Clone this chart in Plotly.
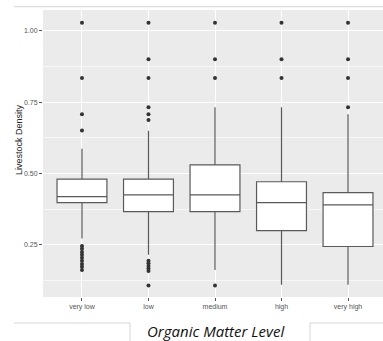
import plotly.graph_objects as go

categories = ["very low", "low", "medium", "high", "very high"]
q1 = [0.398, 0.366, 0.366, 0.300, 0.244]
median = [0.419, 0.425, 0.425, 0.398, 0.390]
q3 = [0.480, 0.480, 0.530, 0.471, 0.433]
lower_whisker = [0.272, 0.215, 0.162, 0.110, 0.110]
upper_whisker = [0.587, 0.650, 0.732, 0.732, 0.708]
outliers = {
    "very low": [1.028, 0.835, 0.708, 0.651, 0.246, 0.236, 0.225, 0.215, 0.205,
                 0.194, 0.183, 0.173, 0.162],
    "low": [1.028, 0.900, 0.835, 0.732, 0.708, 0.687, 0.194, 0.185, 0.176,
            0.167, 0.158, 0.107],
    "medium": [1.028, 0.900, 0.835, 0.107],
    "high": [1.028, 0.900, 0.835],
    "very high": [1.028, 0.900, 0.835, 0.732],
}
y_ticks = [0.25, 0.50, 0.75, 1.00]
y_tick_labels = ["0.25", "0.50", "0.75", "1.00"]
y_minor = [0.125, 0.375, 0.625, 0.875]

fig = go.Figure()
fig.add_trace(go.Box(
    x=categories, q1=q1, median=median, q3=q3,
    lowerfence=lower_whisker, upperfence=upper_whisker,
    boxpoints=False, fillcolor="white",
    line=dict(color="#5a5a5a", width=1.2), whiskerwidth=0, width=0.75,
    showlegend=False, hoverinfo="skip",
))
ox, oy = [], []
for c in categories:
    for v in outliers[c]:
        ox.append(c)
        oy.append(v)
fig.add_trace(go.Scatter(
    x=ox, y=oy, mode="markers",
    marker=dict(color="#333333", size=4), showlegend=False, hoverinfo="skip",
))

# pixel -> paper helpers for decorations
L, R, T, B = 43, 383, 10, 297
def px(x):
    return (x - L) / (R - L)
def py(y):
    return (B - y) / (B - T)

grey_line = dict(color="#d6d6d6", width=1)
shapes = [
    dict(type="line", xref="paper", yref="paper", x0=px(14), x1=px(383), y0=py(6.7), y1=py(6.7), line=grey_line),
    dict(type="line", xref="paper", yref="paper", x0=px(14), x1=px(130), y0=py(323), y1=py(323), line=grey_line),
    dict(type="line", xref="paper", yref="paper", x0=px(310), x1=px(383), y0=py(323), y1=py(323), line=grey_line),
    dict(type="line", xref="paper", yref="paper", x0=px(130), x1=px(130), y0=py(323), y1=py(345), line=grey_line),
    dict(type="line", xref="paper", yref="paper", x0=px(310), x1=px(310), y0=py(323), y1=py(345), line=grey_line),
]

annotations = [
    dict(text="Livestock Density", xref="paper", yref="paper", x=px(19), y=py(140),
         textangle=-90, showarrow=False, font=dict(family="Liberation Sans", size=9, color="#222222"),
         xanchor="center", yanchor="middle"),
    dict(text="<i>Organic Matter Level</i>", xref="paper", yref="paper", x=px(216), y=py(331),
         showarrow=False, font=dict(family="Open Sans", size=15, color="#111111"),
         xanchor="center", yanchor="middle"),
]

fig.update_layout(
    width=383, height=341,
    margin=dict(l=L, r=0, t=T, b=341 - B),
    paper_bgcolor="white", plot_bgcolor="#EBEBEB",
    shapes=shapes, annotations=annotations,
    font=dict(family="Liberation Sans"),
)
fig.update_xaxes(
    type="category", categoryorder="array", categoryarray=categories,
    range=[-0.586, 4.526], showgrid=True, gridcolor="white", gridwidth=1,
    ticks="outside", ticklen=3, tickcolor="#555555", tickwidth=1,
    tickfont=dict(size=7, color="#555555"), zeroline=False, showline=False,
)
fig.update_yaxes(
    range=[0.067, 1.073], tickvals=y_ticks, ticktext=y_tick_labels,
    showgrid=True, gridcolor="white", gridwidth=1,
    minor=dict(tickvals=y_minor, showgrid=True, gridcolor="#F7F7F7", gridwidth=0.6, ticks=""),
    ticks="outside", ticklen=3, tickcolor="#555555", tickwidth=1,
    tickfont=dict(size=7, color="#555555"), zeroline=False, showline=False,
)

fig.write_html("out.html")
